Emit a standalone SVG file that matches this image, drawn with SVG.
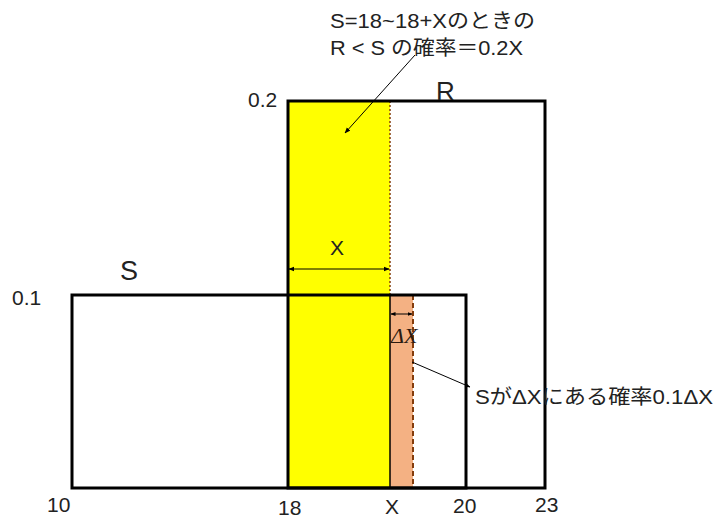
<svg xmlns="http://www.w3.org/2000/svg" width="721" height="518" viewBox="0 0 721 518">
<defs>
<style>
.t{font-family:"Liberation Sans","Noto Sans CJK JP",sans-serif;fill:#222}
.n{font-size:21px}
.box{fill:none;stroke:#000;stroke-width:3}
.thin{stroke:#000;stroke-width:1;fill:none}
</style>
<marker id="ah" viewBox="0 0 10 10" refX="9" refY="5" markerWidth="6" markerHeight="6" orient="auto-start-reverse"><path d="M0,1 L10,5 L0,9 z" fill="#000"/></marker>
<marker id="sm" viewBox="0 0 10 10" refX="9" refY="5" markerWidth="5" markerHeight="5" orient="auto-start-reverse"><path d="M0,1 L10,5 L0,9 z" fill="#000"/></marker>
</defs>
<rect width="721" height="518" fill="#fff"/>
<g id="yellow-area"><rect x="288" y="101" width="102" height="387" fill="#ffff00"/></g>
<g id="orange-area"><rect x="390" y="295" width="23" height="193" fill="#f4b183"/>
<line x1="413" y1="295" x2="413" y2="488" stroke="#843c0c" stroke-width="2" stroke-dasharray="5,3"/>
<line x1="390" y1="295" x2="390" y2="488" stroke="#000" stroke-width="1.5"/>
</g>
<line x1="390" y1="101" x2="390" y2="295" stroke="#843c0c" stroke-width="1.5" stroke-dasharray="2,2"/>
<g id="R"><rect class="box" x="288" y="101" width="257" height="387"/></g>
<g id="S"><rect class="box" x="72" y="295" width="394" height="193"/></g>
<g id="labels">
<text class="t" x="436" y="100" font-size="26">R</text>
<text class="t" x="120" y="280" font-size="27">S</text>
<text class="t n" x="248" y="107">0.2</text>
<text class="t n" x="12" y="305">0.1</text>
<text class="t n" x="47" y="512">10</text>
<text class="t n" x="278" y="515">18</text>
<text class="t n" x="385" y="514">X</text>
<text class="t n" x="453" y="513">20</text>
<text class="t n" x="535" y="512">23</text>
<text class="t n" x="330" y="255">X</text>
<text x="391" y="343" font-size="22" font-style="italic" font-family="Liberation Serif,serif" fill="#2a1a10">ΔX</text>
<text class="t" x="330" y="28" font-size="20" textLength="205" lengthAdjust="spacingAndGlyphs">S=18~18+Xのときの</text>
<text class="t" x="330" y="55" font-size="20" textLength="193" lengthAdjust="spacingAndGlyphs">R &lt; S の確率＝0.2X</text>
<text class="t" x="475" y="404" font-size="20" textLength="238" lengthAdjust="spacingAndGlyphs">SがΔXにある確率0.1ΔX</text>
</g>
<g id="connectors">
<line class="thin" x1="289" y1="269" x2="389" y2="269" marker-start="url(#ah)" marker-end="url(#ah)"/>
<line class="thin" x1="391" y1="314" x2="412" y2="314" marker-start="url(#sm)" marker-end="url(#sm)"/>
<line class="thin" x1="415" y1="55" x2="345" y2="133" marker-end="url(#ah)"/>
<line class="thin" x1="412" y1="362" x2="470" y2="387" marker-end="url(#sm)"/>
</g>
</svg>
